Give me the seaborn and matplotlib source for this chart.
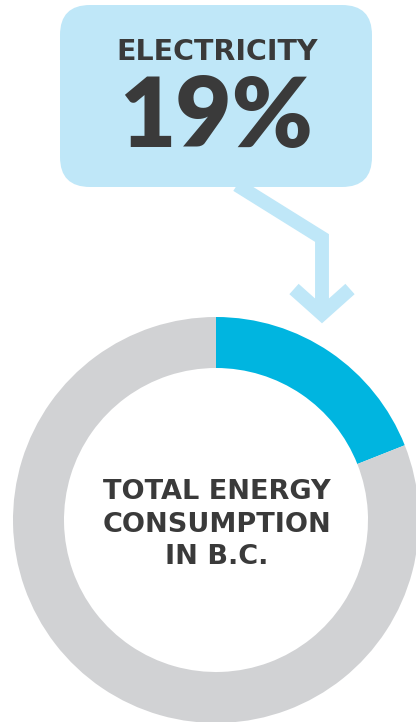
import matplotlib
matplotlib.use("Agg")
import matplotlib.pyplot as plt
import seaborn as sns
from matplotlib.patches import FancyBboxPatch

sns.set_theme(style="white")
plt.rcParams['font.family'] = ['DejaVu Sans']

# data
labels = ["Electricity", "Other"]
shares = [19, 81]
colors = ["#00b5e0", "#d1d2d4"]
callout_label = "ELECTRICITY"
callout_value = "19%"
center_lines = ["TOTAL ENERGY", "CONSUMPTION", "IN B.C."]

light_blue = "#bfe7f8"
ink = "#3a3a3a"

W, H = 416, 722
fig = plt.figure(figsize=(W / 100, H / 100), dpi=100)
ax = fig.add_axes([0, 0, 1, 1])

# donut (pixel coords, y up)
ax.pie(shares, colors=colors, startangle=90, counterclock=False,
       center=(216, H - 520), radius=203,
       wedgeprops=dict(width=51, linewidth=0))

for i, line in enumerate(center_lines):
    ax.text(217, H - (492 + i * 32.5), line, ha="center", va="center",
            fontsize=19.5, fontweight="bold", color=ink)

# callout box
box = FancyBboxPatch((60, H - 187), 312, 182,
                     boxstyle="round,pad=0,rounding_size=30",
                     fc=light_blue, ec="none")
ax.add_patch(box)
ax.text(217, H - 52, callout_label, ha="center", va="center",
        fontsize=20.5, fontweight="bold", color=ink)
ax.text(216, H - 119, callout_value, ha="center", va="center",
        fontsize=70, fontweight="heavy", color=ink, family="Lato")

# arrow from box to ring
ax.plot([237, 322, 322], [H - 185, H - 238, H - 312], color=light_blue,
        lw=10, solid_joinstyle="miter", solid_capstyle="butt")
ax.plot([294, 322, 350], [H - 289, H - 314, H - 289], color=light_blue,
        lw=10, solid_joinstyle="miter", solid_capstyle="butt")

ax.set_xlim(0, W)
ax.set_ylim(0, H)
ax.set_aspect("equal")
ax.axis("off")
fig.savefig("out.png", dpi=100, facecolor="white")
